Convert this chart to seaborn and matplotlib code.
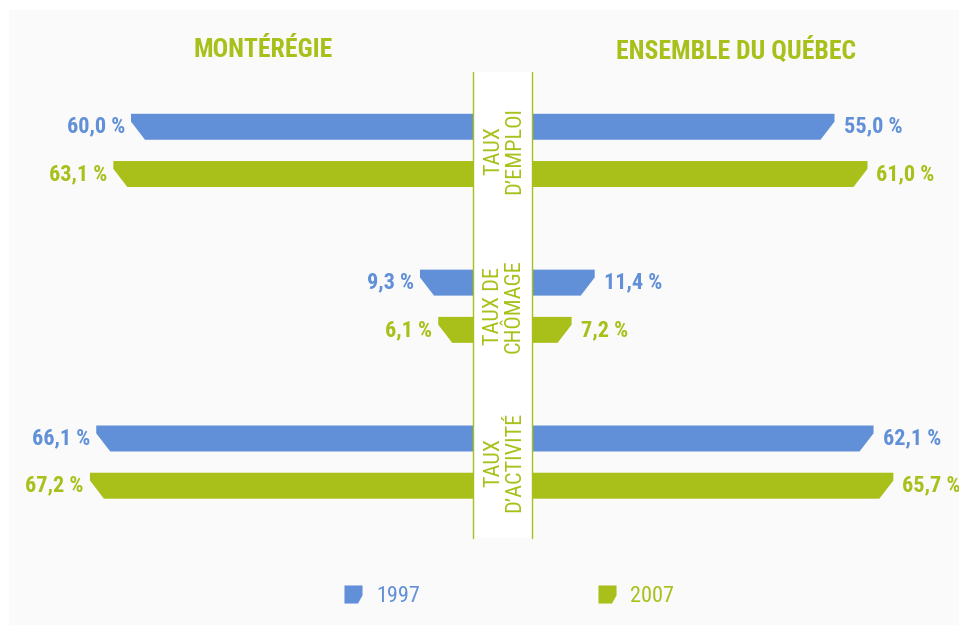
import pandas as pd
import matplotlib.pyplot as plt
import seaborn as sns
from matplotlib.patches import Polygon, Rectangle
from matplotlib.lines import Line2D
from matplotlib.path import Path

# Data
indicateurs = ['TAUX\nD\u2019EMPLOI', 'TAUX DE\nCHÔMAGE', 'TAUX\nD\u2019ACTIVITÉ']
annees = ['1997', '2007']
monteregie_1997 = [60.0, 9.3, 66.1]
monteregie_2007 = [63.1, 6.1, 67.2]
quebec_1997 = [55.0, 11.4, 62.1]
quebec_2007 = [61.0, 7.2, 65.7]

BLEU = '#6190d8'
VERT = '#a9c01a'
W, H = 959, 630

sns.set_style('white')
plt.rcParams['font.family'] = ['Roboto Condensed', 'DejaVu Sans']
plt.rcParams['font.stretch'] = 'condensed'


def long_df(v1997, v2007):
    return pd.DataFrame({
        'indicateur': indicateurs * 2,
        'annee': [annees[0]] * 3 + [annees[1]] * 3,
        'valeur': v1997 + v2007,
    })


def fx(px):
    return px / W


def fy(py):
    return 1 - py / H


fig = plt.figure(figsize=(W / 100, H / 100), dpi=100, facecolor='white')

# background panel and white centre column
fig.add_artist(Rectangle((fx(9), fy(625)), fx(950), 615 / H, transform=fig.transFigure,
                         facecolor='#fafafa', edgecolor='none', zorder=-2))
fig.add_artist(Rectangle((fx(473), fy(538)), fx(59), 466 / H, transform=fig.transFigure,
                         facecolor='white', edgecolor='none', zorder=-1))

top, bottom = 72, 538
ax_l = fig.add_axes([fx(0), fy(bottom), fx(473), (bottom - top) / H], facecolor='none')
ax_r = fig.add_axes([fx(532), fy(bottom), fx(427), (bottom - top) / H], facecolor='none')

cotes = [
    (ax_l, long_df(monteregie_1997, monteregie_2007), 5.7, -6, 'right'),
    (ax_r, long_df(quebec_1997, quebec_2007), 5.5, 9, 'left'),
]

for ax, df, px_unit, decal, ha in cotes:
    sns.barplot(data=df, x='valeur', y='indicateur', hue='annee', order=indicateurs,
                hue_order=annees, palette=[BLEU, VERT], saturation=1, orient='h',
                width=0.606, gap=0.45, errorbar=None, legend=False, ax=ax)
    ax.set_xlim(0, ax.bbox.width / px_unit)
    ax.set_ylim(2.487, -0.503)
    if ax is ax_l:
        ax.invert_xaxis()
    ax.set_axis_off()

    # chamfered outer end (bottom corner cut)
    dx = 14 / px_unit
    for p in list(ax.patches):
        v, y, h = p.get_width(), p.get_y(), p.get_height()
        col = p.get_facecolor()
        p.set_visible(False)
        ax.add_patch(Polygon([(0, y), (v, y), (v, y + 0.3 * h), (v - dx, y + h), (0, y + h)],
                             closed=True, facecolor=col, edgecolor='none'))
        ax.annotate(f'{v:.1f} %'.replace('.', ','), xy=(v, y + h / 2),
                    xytext=(decal, 0), textcoords='offset pixels', ha=ha, va='center',
                    color=col, fontsize=16, fontweight='bold')

# centre lines and labels
for x in (473, 532):
    fig.add_artist(Line2D([fx(x), fx(x)], [fy(top), fy(bottom)], transform=fig.transFigure,
                          color=VERT, lw=1, zorder=3))
for i, lab in enumerate(indicateurs):
    ax_l.annotate(lab, xy=(1, i), xycoords=('axes fraction', 'data'), xytext=(31, 0),
                  textcoords='offset pixels', rotation=90, ha='center', va='center',
                  multialignment='center', color=VERT, fontsize=16, linespacing=1.0,
                  annotation_clip=False)

fig.text(fx(263), fy(50), 'MONTÉRÉGIE', ha='center', va='center', color=VERT,
         fontsize=18.5, fontweight='bold')
fig.text(fx(736), fy(50), 'ENSEMBLE DU QUÉBEC', ha='center', va='center', color=VERT,
         fontsize=18.5, fontweight='bold')

# legend with chamfered markers
marque = Path([(-1, 1), (1, 1), (1, -0.1), (0.5, -1), (-1, -1), (-1, 1)],
              [Path.MOVETO] + [Path.LINETO] * 4 + [Path.CLOSEPOLY])
poignees = [Line2D([], [], marker=marque, linestyle='none', markersize=13,
                   markerfacecolor=c, markeredgecolor='none', label=a)
            for c, a in zip([BLEU, VERT], annees)]
leg = fig.legend(handles=poignees, loc='center', bbox_to_anchor=(fx(508), fy(596)), ncol=2,
                 frameon=False, fontsize=16, columnspacing=7.9, handletextpad=0.55,
                 handlelength=1.0)
for t, c in zip(leg.get_texts(), [BLEU, VERT]):
    t.set_color(c)

fig.savefig('out.png', dpi=100, facecolor='white')
